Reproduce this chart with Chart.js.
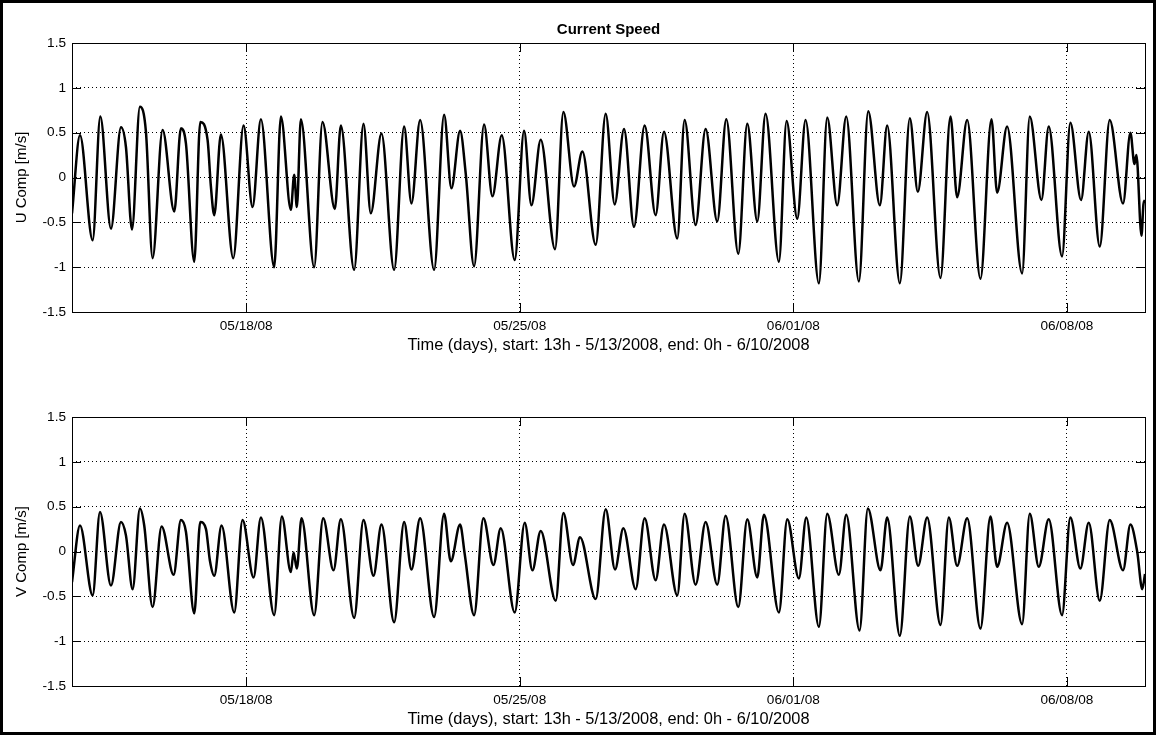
<!DOCTYPE html>
<html>
<head>
<meta charset="utf-8">
<title>Current Speed</title>
<script src="https://cdn.jsdelivr.net/npm/chart.js@4.4.1/dist/chart.umd.min.js"></script>
<style>
  html, body { margin: 0; padding: 0; background: #fff; }
  #page { position: relative; width: 1156px; height: 735px; overflow: hidden; background: #fff; }
  #frame { position: absolute; left: 0; top: 0; width: 1156px; height: 735px; box-sizing: border-box;
           border: 3px solid #000; pointer-events: none; }
  .panel { position: absolute; left: 0; width: 1156px; height: 360px; }
  #uPanel { top: 0; }
  #vPanel { top: 374px; }
</style>
</head>
<body>
<div id="page">
  <div class="panel" id="uPanel"><canvas id="uChart" width="1156" height="360"></canvas></div>
  <div class="panel" id="vPanel"><canvas id="vChart" width="1156" height="360"></canvas></div>
  <div id="frame"></div>
</div>
<script>
// time in days since 05/13/2008 00:00 -> record runs 13h 5/13 to 0h 6/10
const startDay = 13 / 24;
const endDay = 28;
const tickDays = [5, 12, 19, 26];
const tickLabels = ['05/18/08', '05/25/08', '06/01/08', '06/08/08'];
const yTicks = [-1.5, -1, -0.5, 0, 0.5, 1, 1.5];
const xTitle = 'Time (days), start: 13h - 5/13/2008, end: 0h - 6/10/2008';

// U component (m/s), turning points of the tidal signal
const uDays = [0.542, 0.746, 1.07, 1.266, 1.539, 1.795, 1.922, 2.076, 2.28, 2.434,
  2.604, 2.86, 3.159, 3.329, 3.457, 3.67, 3.824, 4.011, 4.096, 4.182,
  4.352, 4.668, 4.932, 5.162, 5.375, 5.716, 5.887, 6.142, 6.228, 6.296,
  6.398, 6.739, 6.952, 7.268, 7.421, 7.762, 8.001, 8.188, 8.461, 8.785,
  9.041, 9.228, 9.45, 9.808, 10.064, 10.251, 10.473, 10.618, 10.831, 11.087,
  11.30, 11.539, 11.871, 12.11, 12.298, 12.536, 12.903, 13.116, 13.389, 13.602,
  13.943, 14.199, 14.429, 14.668, 14.923, 15.196, 15.477, 15.69, 16.031, 16.219,
  16.5, 16.756, 17.054, 17.285, 17.592, 17.822, 18.078, 18.29, 18.632, 18.828,
  19.101, 19.314, 19.655, 19.868, 20.124, 20.354, 20.678, 20.917, 21.215, 21.402,
  21.726, 21.982, 22.187, 22.425, 22.766, 23.022, 23.193, 23.449, 23.789, 24.071,
  24.216, 24.471, 24.855, 25.051, 25.35, 25.536, 25.877, 26.09, 26.363, 26.56,
  26.842, 27.097, 27.438, 27.627, 27.73, 27.78, 27.91, 27.96, 28.0];
const uComp = [-0.40, 0.47, -0.70, 0.68, -0.57, 0.56, 0.34, -0.58, 0.79, 0.51,
  -0.90, 0.53, -0.38, 0.55, 0.38, -0.94, 0.62, 0.42, -0.10, -0.42,
  0.48, -0.90, 0.58, -0.33, 0.65, -1.00, 0.68, -0.36, 0.03, -0.33,
  0.65, -1.00, 0.62, -0.35, 0.58, -1.03, 0.60, -0.40, 0.49, -1.03,
  0.57, -0.29, 0.64, -1.03, 0.70, -0.12, 0.52, 0.04, -0.99, 0.59,
  -0.21, 0.47, -0.92, 0.52, -0.31, 0.42, -0.80, 0.73, -0.10, 0.29,
  -0.75, 0.71, -0.30, 0.54, -0.55, 0.58, -0.42, 0.51, -0.68, 0.64,
  -0.53, 0.54, -0.49, 0.65, -0.85, 0.60, -0.49, 0.71, -0.94, 0.63,
  -0.46, 0.64, -1.18, 0.67, -0.31, 0.68, -1.16, 0.74, -0.31, 0.58,
  -1.18, 0.66, -0.16, 0.73, -1.12, 0.68, -0.22, 0.64, -1.13, 0.65,
  -0.17, 0.57, -1.07, 0.68, -0.25, 0.57, -0.88, 0.61, -0.25, 0.51,
  -0.77, 0.64, -0.29, 0.50, 0.15, 0.25, -0.65, -0.30, -0.25];

// V component (m/s)
const vDays = [0.542, 0.746, 1.07, 1.257, 1.539, 1.795, 1.922, 2.093, 2.28, 2.39,
  2.604, 2.835, 3.142, 3.329, 3.457, 3.67, 3.824, 3.97, 4.07, 4.182,
  4.369, 4.693, 4.906, 5.188, 5.375, 5.716, 5.912, 6.142, 6.211, 6.296,
  6.415, 6.739, 6.969, 7.234, 7.421, 7.762, 8.001, 8.257, 8.461, 8.785,
  9.041, 9.228, 9.45, 9.808, 10.064, 10.234, 10.473, 10.592, 10.831, 11.07,
  11.326, 11.513, 11.871, 12.127, 12.323, 12.536, 12.92, 13.116, 13.363, 13.542,
  13.943, 14.199, 14.438, 14.651, 14.966, 15.196, 15.477, 15.69, 16.031, 16.219,
  16.5, 16.756, 17.054, 17.268, 17.592, 17.822, 18.078, 18.248, 18.632, 18.845,
  19.143, 19.331, 19.655, 19.868, 20.166, 20.354, 20.695, 20.908, 21.232, 21.402,
  21.726, 21.982, 22.195, 22.425, 22.766, 22.98, 23.193, 23.449, 23.789, 24.045,
  24.216, 24.471, 24.855, 25.051, 25.282, 25.536, 25.877, 26.09, 26.346, 26.56,
  26.842, 27.097, 27.438, 27.627, 27.80, 27.93, 28.0];
const vComp = [-0.34, 0.29, -0.49, 0.44, -0.38, 0.33, 0.18, -0.42, 0.48, 0.29,
  -0.62, 0.28, -0.26, 0.35, 0.22, -0.69, 0.33, 0.25, -0.10, -0.27,
  0.29, -0.68, 0.35, -0.29, 0.38, -0.71, 0.39, -0.23, -0.01, -0.19,
  0.37, -0.71, 0.37, -0.21, 0.36, -0.74, 0.35, -0.27, 0.30, -0.79,
  0.33, -0.20, 0.37, -0.73, 0.42, -0.11, 0.30, -0.03, -0.71, 0.37,
  -0.15, 0.26, -0.68, 0.32, -0.21, 0.23, -0.55, 0.43, -0.15, 0.16,
  -0.53, 0.47, -0.20, 0.26, -0.42, 0.37, -0.32, 0.30, -0.49, 0.42,
  -0.37, 0.33, -0.37, 0.40, -0.62, 0.36, -0.29, 0.41, -0.68, 0.36,
  -0.30, 0.38, -0.84, 0.42, -0.26, 0.41, -0.88, 0.48, -0.21, 0.38,
  -0.94, 0.39, -0.16, 0.38, -0.82, 0.38, -0.16, 0.37, -0.86, 0.39,
  -0.17, 0.32, -0.81, 0.42, -0.17, 0.36, -0.71, 0.38, -0.19, 0.32,
  -0.55, 0.35, -0.21, 0.30, 0.0, -0.42, -0.25];

Chart.defaults.font.family = '"Liberation Sans", Arial, Helvetica, sans-serif';
Chart.defaults.color = '#000';

// closed axes box with inward tick marks on all four sides
const axesBox = {
  id: 'axesBox',
  afterDraw(chart) {
    const { ctx, chartArea: a, scales } = chart;
    const len = 9;
    ctx.save();
    ctx.strokeStyle = '#000';
    ctx.lineWidth = 1;
    ctx.beginPath();
    scales.x.ticks.forEach(t => {
      const px = Math.round(scales.x.getPixelForValue(t.value)) + 0.5;
      ctx.moveTo(px, a.bottom); ctx.lineTo(px, a.bottom - len);
      ctx.moveTo(px, a.top); ctx.lineTo(px, a.top + len);
    });
    scales.y.ticks.forEach(t => {
      const py = Math.round(scales.y.getPixelForValue(t.value)) + 0.5;
      ctx.moveTo(a.left, py); ctx.lineTo(a.left + len, py);
      ctx.moveTo(a.right, py); ctx.lineTo(a.right - len, py);
    });
    ctx.stroke();
    ctx.strokeRect(Math.round(a.left) + 0.5, Math.round(a.top) + 0.5,
      Math.round(a.right - a.left), Math.round(a.bottom - a.top));
    ctx.restore();
  }
};

function makePanel(canvasId, days, values, yTitle, withTitle) {
  const points = days.map((d, i) => ({ x: d, y: values[i] }));
  const dotted = { color: '#000', lineWidth: 1, drawTicks: false };
  const noBorder = { display: false, dash: [1, 3] };
  return new Chart(document.getElementById(canvasId), {
    type: 'line',
    data: {
      datasets: [{
        data: points,
        borderColor: '#000',
        borderWidth: 2.5,
        pointRadius: 0,
        fill: false,
        cubicInterpolationMode: 'monotone'
      }]
    },
    options: {
      responsive: false,
      animation: false,
      layout: { padding: { left: 0, right: 11, top: withTitle ? 0 : 43, bottom: 0 } },
      plugins: {
        legend: { display: false },
        tooltip: { enabled: false },
        title: {
          display: withTitle,
          text: 'Current Speed',
          fullSize: false,
          color: '#000',
          font: { size: 15, weight: 'bold' },
          padding: { top: 21, bottom: 4 }
        }
      },
      scales: {
        x: {
          type: 'linear',
          min: startDay,
          max: endDay,
          afterBuildTicks: s => { s.ticks = tickDays.map(v => ({ value: v })); },
          afterFit: s => { s.height = 48; },
          grid: dotted,
          border: noBorder,
          ticks: {
            padding: 6,
            maxRotation: 0,
            autoSkip: false,
            color: '#000',
            font: { size: 13.6 },
            callback: v => tickLabels[tickDays.indexOf(v)]
          },
          title: {
            display: true,
            text: xTitle,
            color: '#000',
            font: { size: 16.4 },
            padding: { top: 0, bottom: 5 }
          }
        },
        y: {
          type: 'linear',
          min: -1.5,
          max: 1.5,
          afterBuildTicks: s => { s.ticks = yTicks.map(v => ({ value: v })); },
          afterFit: s => { s.width = 72; },
          grid: dotted,
          border: noBorder,
          ticks: {
            padding: 6,
            color: '#000',
            font: { size: 13.6 },
            callback: v => String(v)
          },
          title: {
            display: true,
            text: yTitle,
            color: '#000',
            font: { size: 15 },
            padding: { top: 13, bottom: 0 }
          }
        }
      }
    },
    plugins: [axesBox]
  });
}

makePanel('uChart', uDays, uComp, 'U Comp [m/s]', true);
makePanel('vChart', vDays, vComp, 'V Comp [m/s]', false);
</script>
</body>
</html>
